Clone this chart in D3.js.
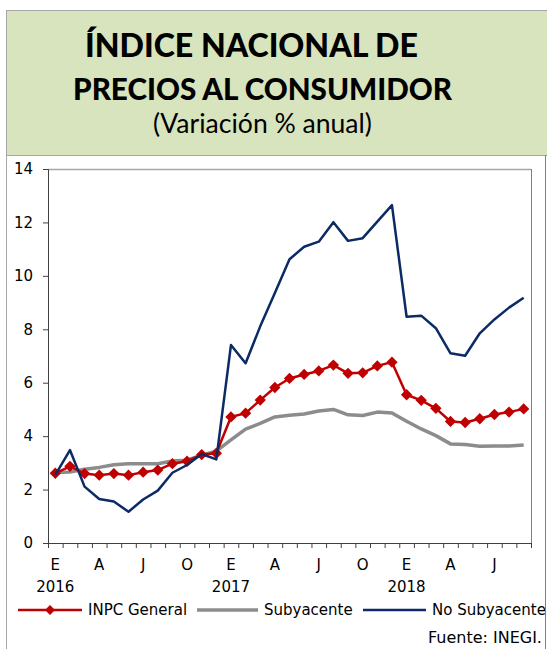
<!DOCTYPE html>
<html>
<head>
<meta charset="utf-8">
<script src="https://cdn.jsdelivr.net/npm/d3@7"></script>
<style>
  html, body { margin: 0; padding: 0; background: #ffffff; }
  svg { display: block; }
</style>
</head>
<body>
<svg id="chart" width="547" height="649"></svg>
<script>
// Monthly categories, January 2016 to September 2018
const monthLabels = [
  "E","","","A","","","J","","","O","","",
  "E","","","A","","","J","","","O","","",
  "E","","","A","","","J","",""
];
const yearLabels = [
  "2016","","","","","","","","","","","",
  "2017","","","","","","","","","","","",
  "2018","","","","","","","",""
];

// Annual variation (%)
const inpcGeneral = [
  2.61, 2.87, 2.60, 2.54, 2.60, 2.54, 2.65, 2.73, 2.97, 3.06, 3.31, 3.36,
  4.72, 4.86, 5.35, 5.82, 6.16, 6.31, 6.44, 6.66, 6.35, 6.37, 6.63, 6.77,
  5.55, 5.34, 5.04, 4.55, 4.51, 4.65, 4.81, 4.90, 5.02
];
const subyacente = [
  2.64, 2.66, 2.76, 2.83, 2.93, 2.97, 2.97, 2.97, 3.07, 3.10, 3.29, 3.44,
  3.86, 4.26, 4.48, 4.72, 4.78, 4.83, 4.94, 5.00, 4.80, 4.77, 4.90, 4.87,
  4.56, 4.27, 4.02, 3.71, 3.69, 3.62, 3.63, 3.63, 3.67
];
const noSubyacente = [
  2.55, 3.48, 2.11, 1.65, 1.55, 1.17, 1.63, 1.96, 2.63, 2.92, 3.33, 3.13,
  7.41, 6.73, 8.11, 9.36, 10.62, 11.09, 11.28, 12.01, 11.31, 11.41, 12.03, 12.65,
  8.47, 8.51, 8.04, 7.10, 7.01, 7.85, 8.37, 8.81, 9.18
];
const yTicks = [0, 2, 4, 6, 8, 10, 12, 14];

const seriesNames = ["INPC General", "Subyacente", "No Subyacente"];
const colors = { red: "#C00000", gray: "#8C8C8C", navy: "#0B2A66" };

const svg = d3.select("#chart");
const W = 547, H = 649;
const TXT = "'DejaVu Sans', Verdana, sans-serif";
const TITLE = "Lato, 'Open Sans', sans-serif";

// Clip everything to the framed panel
svg.append("defs").append("clipPath").attr("id", "panel")
  .append("rect").attr("x", 7).attr("y", 0).attr("width", 538).attr("height", H);

// Header band
svg.append("rect")
  .attr("x", 6.5).attr("y", 10.5).attr("width", 545).attr("height", 145)
  .attr("fill", "#D7E4BD").attr("stroke", "#A6A6A6").attr("stroke-width", 1);

// Panel frame below the header
svg.append("line").attr("x1", 6.5).attr("x2", 6.5).attr("y1", 155).attr("y2", H)
  .attr("stroke", "#A6A6A6");
svg.append("line").attr("x1", 545.5).attr("x2", 545.5).attr("y1", 155).attr("y2", H)
  .attr("stroke", "#7F7F7F");

// Text fitted to a given width
function fittedText(parent, txt, x, y, anchor, family, weight, size, targetWidth) {
  const t = parent.append("text")
    .attr("x", x).attr("y", y)
    .attr("text-anchor", anchor)
    .attr("font-family", family).attr("font-weight", weight)
    .attr("font-size", size).attr("fill", "#000")
    .text(txt);
  const w = t.node().getComputedTextLength();
  if (w > 0) t.attr("font-size", size * targetWidth / w);
  return t;
}
fittedText(svg, "ÍNDICE NACIONAL DE", 251.5, 57, "middle", TITLE, 900, 30, 333);
fittedText(svg, "PRECIOS AL CONSUMIDOR", 262.5, 100, "middle", TITLE, 900, 30, 379);
fittedText(svg, "(Variación % anual)", 262.5, 133, "middle", TITLE, 400, 24, 219);

// Scales
const x0 = 48, x1 = 531, yTop = 169, yBot = 543;
const x = d3.scaleBand().domain(d3.range(monthLabels.length)).range([x0, x1]).padding(0);
const xc = i => x(i) + x.bandwidth() / 2;
const y = d3.scaleLinear().domain([0, 14]).range([yBot, yTop]);

const g = svg.append("g").attr("clip-path", "url(#panel)");

// Plot frame (top and right)
g.append("line").attr("x1", x0).attr("x2", x1).attr("y1", yTop + 0.5).attr("y2", yTop + 0.5)
  .attr("stroke", "#A6A6A6").attr("stroke-width", 1.5);
g.append("line").attr("x1", x1 + 0.5).attr("x2", x1 + 0.5).attr("y1", yTop).attr("y2", yBot)
  .attr("stroke", "#7F7F7F").attr("stroke-width", 1);

// Y axis
const yAxis = g.append("g").attr("transform", `translate(${x0},0)`)
  .call(d3.axisLeft(y).tickValues(yTicks).tickSize(5).tickPadding(10).tickFormat(d3.format("d")));
yAxis.select(".domain").attr("stroke", "#404040");
yAxis.selectAll(".tick line").attr("stroke", "#404040");
yAxis.selectAll("text").attr("font-family", TXT).attr("font-size", 15).attr("fill", "#000");

// X axis: ticks between categories
const xEdges = d3.scaleLinear().domain([0, monthLabels.length]).range([x0, x1]);
const xAxis = g.append("g").attr("transform", `translate(0,${yBot})`)
  .call(d3.axisBottom(xEdges).tickValues(d3.range(monthLabels.length + 1))
    .tickSize(5).tickFormat(""));
xAxis.select(".domain").attr("stroke", "#404040");
xAxis.selectAll(".tick line").attr("stroke", "#404040");

// Month and year labels
g.append("g").selectAll("text").data(monthLabels).join("text")
  .attr("x", (d, i) => xc(i)).attr("y", 570)
  .attr("text-anchor", "middle").attr("font-family", TXT).attr("font-size", 15)
  .attr("fill", "#000").text(d => d);
g.append("g").selectAll("text").data(yearLabels).join("text")
  .attr("x", (d, i) => xc(i)).attr("y", 592)
  .attr("text-anchor", "middle").attr("font-family", TXT).attr("font-size", 15)
  .attr("fill", "#000").text(d => d);

// Lines
const line = d3.line().x((d, i) => xc(i)).y(d => y(d));
g.append("path").datum(subyacente).attr("d", line)
  .attr("fill", "none").attr("stroke", colors.gray).attr("stroke-width", 3.5)
  .attr("stroke-linejoin", "round");
g.append("path").datum(inpcGeneral).attr("d", line)
  .attr("fill", "none").attr("stroke", colors.red).attr("stroke-width", 2.5)
  .attr("stroke-linejoin", "round");
const diamond = d3.symbol().type(d3.symbolSquare).size(64);
g.append("g").selectAll("path").data(inpcGeneral).join("path")
  .attr("d", diamond)
  .attr("transform", (d, i) => `translate(${xc(i)},${y(d)}) rotate(45)`)
  .attr("fill", colors.red);
g.append("path").datum(noSubyacente).attr("d", line)
  .attr("fill", "none").attr("stroke", colors.navy).attr("stroke-width", 2.5)
  .attr("stroke-linejoin", "round");

// Legend
const legendY = 610;
const legend = [
  { name: seriesNames[0], x1: 18, x2: 82, tx: 88, color: colors.red, w: 2.5, marker: true },
  { name: seriesNames[1], x1: 197, x2: 258, tx: 264, color: colors.gray, w: 3.5, marker: false },
  { name: seriesNames[2], x1: 363, x2: 426, tx: 432, color: colors.navy, w: 2.5, marker: false }
];
const lg = g.append("g");
legend.forEach(l => {
  lg.append("line").attr("x1", l.x1).attr("x2", l.x2).attr("y1", legendY).attr("y2", legendY)
    .attr("stroke", l.color).attr("stroke-width", l.w);
  if (l.marker) {
    lg.append("path").attr("d", d3.symbol().type(d3.symbolSquare).size(50)())
      .attr("transform", `translate(${(l.x1 + l.x2) / 2},${legendY}) rotate(45)`)
      .attr("fill", l.color);
  }
  lg.append("text").attr("x", l.tx).attr("y", legendY + 5)
    .attr("font-family", TXT).attr("font-size", 15).attr("fill", "#000").text(l.name);
});

// Source note
fittedText(g, "Fuente: INEGI.", 428, 643, "start", TXT, 400, 14, 114);
</script>
</body>
</html>
